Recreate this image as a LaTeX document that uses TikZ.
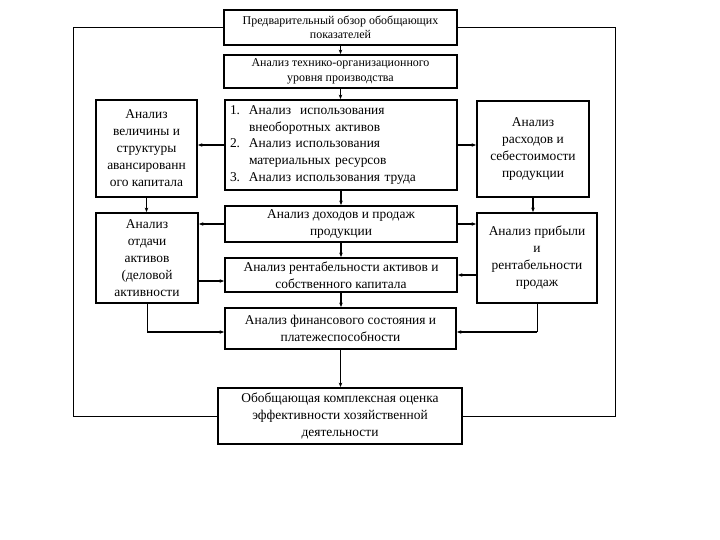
\documentclass[tikz,border=0pt]{standalone}
\usepackage{fontspec}
\setmainfont{Liberation Serif}
\usetikzlibrary{arrows.meta}
\begin{document}
\begin{tikzpicture}[x=1bp,y=-1bp,
  box/.style={draw, line width=1.8bp, inner sep=0pt, align=center, font=\fontsize{13.5}{17}\selectfont},
  smalltext/.style={font=\fontsize{12}{14.5}\selectfont},
  conn/.style={line width=1.3bp, -{Stealth[length=4.5bp,width=3.5bp]}},
  thinline/.style={line width=1bp}]
\useasboundingbox (0,0) rectangle (720,540);
% boxes
\node[box, smalltext, minimum width=233bp, minimum height=35bp] (b1) at (340.5,27.5) {Предварительный обзор обобщающих\\показателей};
\node[box, smalltext, minimum width=233bp, minimum height=33bp] (b2) at (340.5,71.5) {Анализ технико-организационного\\уровня производства};
\node[box, minimum width=232bp, minimum height=90bp, text width=222bp, align=left] (b3) at (341,145) {\makebox[19bp][l]{1.}Анализ\ \ использования\\\hspace*{19bp}внеоборотных активов\\\makebox[19bp][l]{2.}Анализ использования\\\hspace*{19bp}материальных ресурсов\\\makebox[19bp][l]{3.}Анализ использования труда};
\node[box, minimum width=101bp, minimum height=97bp] (A) at (146.5,148.5) {Анализ\\величины и\\структуры\\авансированн\\ого капитала};
\node[box, minimum width=102bp, minimum height=90bp] (B) at (147,258) {Анализ\\отдачи\\активов\\(деловой\\активности};
\node[box, minimum width=232bp, minimum height=36bp] (b4) at (341,224) {Анализ доходов и продаж\\продукции};
\node[box, minimum width=232bp, minimum height=34bp] (b5) at (341,275) {Анализ рентабельности активов и\\собственного капитала};
\node[box, minimum width=112bp, minimum height=96bp] (C) at (533,149) {Анализ\\расходов и\\себестоимости\\продукции};
\node[box, minimum width=120bp, minimum height=90bp] (D) at (537,258) {Анализ прибыли\\и\\рентабельности\\продаж};
\node[box, minimum width=231bp, minimum height=41bp] (b6) at (340.5,328.5) {Анализ финансового состояния и\\платежеспособности};
\node[box, minimum width=244bp, minimum height=56bp] (b7) at (340,416) {Обобщающая комплексная оценка\\эффективности хозяйственной\\деятельности};
% central chain
\draw[conn] (b1.south) -- (b1.south |- b2.north);
\draw[conn] (b2.south) -- (b2.south |- b3.north);
\draw[conn] (b3.south) -- (b3.south |- b4.north);
\draw[conn] (b4.south) -- (b4.south |- b5.north);
\draw[conn] (b5.south) -- (b5.south |- b6.north);
\draw[conn] (b6.south) -- (b6.south |- b7.north);
% side links
\draw[conn] (b3.west) -- (b3.west -| A.east);
\draw[conn] (b3.east) -- (b3.east -| C.west);
\draw[conn] (A.south) -- (A.south |- B.north);
\draw[conn] (C.south) -- (C.south |- D.north);
\draw[conn] (b4.west) -- (b4.west -| B.east);
\draw[conn] (b4.east) -- (b4.east -| D.west);
\coordinate (bf) at (198,281);
\draw[conn] (bf) -- (bf -| b5.west);
\draw[conn] (D.west |- b5.east) -- (b5.east);
\coordinate (bl) at (147,332);
\coordinate (dr) at (537,332);
\draw[thinline] (B.south) -- (bl);
\draw[conn] (bl) -- (bl -| b6.west);
\draw[thinline] (D.south) -- (dr);
\draw[conn] (dr) -- (dr -| b6.east);
% outer loop
\coordinate (lc) at (73,416);
\coordinate (rc) at (615,416);
\draw[thinline] (b1.west) -| (lc) -- (b7.west);
\draw[thinline] (b1.east) -| (rc) -- (b7.east);
\end{tikzpicture}
\end{document}
